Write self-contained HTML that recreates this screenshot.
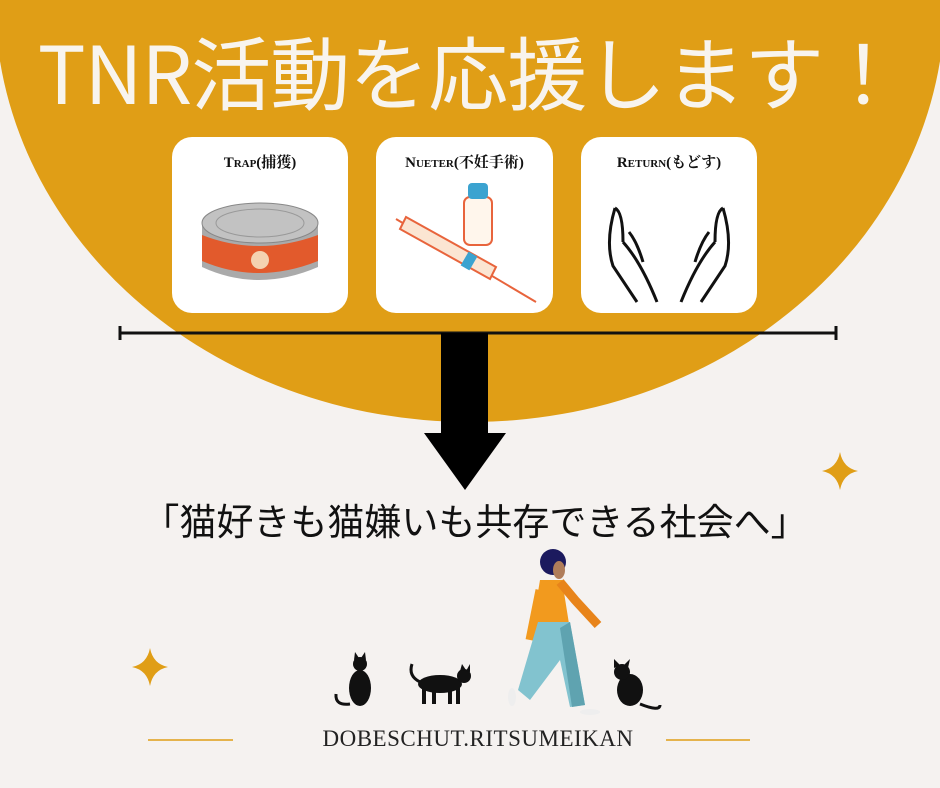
<!DOCTYPE html>
<html><head><meta charset="utf-8"><style>
html,body{margin:0;padding:0}
body{width:940px;height:788px;background:#f5f2f0;position:relative;overflow:hidden;font-family:"Liberation Sans","Noto Sans CJK JP",sans-serif}
.abs{position:absolute}
.card{position:absolute;top:137px;width:176px;height:176px;background:#fff;border-radius:20px}
.card .t{position:absolute;top:14px;left:0;right:0;text-align:center;font-family:"Liberation Serif","Noto Serif CJK SC",serif;font-weight:bold;font-size:15px;color:#111;font-variant:small-caps}
</style></head><body>
<svg class="abs" style="left:0;top:0" width="940" height="788">
<ellipse cx="470" cy="0" rx="475" ry="422" fill="#e09e16"/>
<line x1="120" y1="333" x2="836" y2="333" stroke="#111" stroke-width="3"/>
<line x1="120" y1="326" x2="120" y2="340" stroke="#111" stroke-width="3"/>
<line x1="836" y1="326" x2="836" y2="340" stroke="#111" stroke-width="3"/>
<rect x="441" y="333" width="47" height="100" fill="#000"/>
<polygon points="424,433 506,433 465,490" fill="#000"/>
<path d="M840 452 Q843 468 858 471 Q843 474 840 490 Q837 474 822 471 Q837 468 840 452Z" fill="#e09e16"/>
<path d="M150 648 Q153 664 168 667 Q153 670 150 686 Q147 670 132 667 Q147 664 150 648Z" fill="#e09e16"/>
<line x1="148" y1="740" x2="233" y2="740" stroke="#e09e16" stroke-width="1.5"/>
<line x1="666" y1="740" x2="750" y2="740" stroke="#e09e16" stroke-width="1.5"/>
<g fill="#111">
<ellipse cx="360" cy="688" rx="11" ry="18"/><circle cx="360" cy="664" r="7"/>
<polygon points="354,660 355,652 359,658"/><polygon points="366,660 365,652 361,658"/>
<path d="M350 704 Q335 706 336 694" stroke="#111" stroke-width="3" fill="none"/>
<ellipse cx="440" cy="684" rx="22" ry="9"/><circle cx="464" cy="676" r="7"/>
<polygon points="460,671 462,664 466,670"/><polygon points="466,671 470,664 470,672"/>
<rect x="422" y="686" width="4" height="18"/><rect x="432" y="686" width="4" height="18"/><rect x="448" y="686" width="4" height="18"/><rect x="456" y="686" width="4" height="18"/>
<path d="M420 682 Q408 676 412 664" stroke="#111" stroke-width="3" fill="none"/>
<ellipse cx="630" cy="690" rx="13" ry="16"/><circle cx="622" cy="672" r="8"/>
<polygon points="614,668 614,659 620,665"/><polygon points="628,668 630,659 624,665"/>
<path d="M640 704 Q660 712 660 705" stroke="#111" stroke-width="3" fill="none"/>
</g>
<circle cx="553" cy="562" r="13" fill="#1c1a5e"/>
<ellipse cx="559" cy="570" rx="6" ry="9" fill="#b07d5a"/>
<path d="M540 580 L562 580 L570 630 L530 640 Z" fill="#f29a1e"/>
<path d="M560 582 L575 600 L598 625" stroke="#e8841a" stroke-width="9" fill="none"/>
<path d="M540 590 L530 640" stroke="#f29a1e" stroke-width="9" fill="none"/>
<path d="M538 622 L570 622 L585 705 L570 707 L560 660 L530 700 L518 690 Z" fill="#82c3cf"/>
<path d="M560 628 L570 622 L585 705 L572 707 Z" fill="#5fa3b0"/>
<ellipse cx="590" cy="712" rx="10" ry="3" fill="#eee"/>
<ellipse cx="512" cy="697" rx="4" ry="9" fill="#eee"/>
</svg>
<div class="abs" style="left:0px;top:20px;width:940px;text-align:center;color:#f8f4ee;font-size:80px;line-height:100px;font-family:'Noto Sans CJK JP',sans-serif;font-weight:400;white-space:nowrap;letter-spacing:-1px">TNR活動を応援します！</div>
<div class="card" style="left:172px"><div class="t">Trap(捕獲)</div>
<svg class="abs" style="left:26px;top:58px" width="124" height="100">
<path d="M4 30 L4 72 Q60 98 120 72 L120 30 Z" fill="#aaa"/>
<path d="M4 40 L4 66 Q60 90 120 66 L120 40 Q60 62 4 40Z" fill="#e25a2c"/>
<ellipse cx="62" cy="28" rx="58" ry="20" fill="#c2c2c2" stroke="#888"/>
<ellipse cx="62" cy="28" rx="44" ry="14" fill="none" stroke="#999"/>
<circle cx="62" cy="65" r="9" fill="#f4d2b0"/></svg></div>
<div class="card" style="left:376px;width:177px"><div class="t">Nueter(不妊手術)</div>
<svg class="abs" style="left:10px;top:40px" width="160" height="130">
<rect x="78" y="20" width="28" height="48" rx="6" fill="#fff6ec" stroke="#e8643c" stroke-width="2"/>
<rect x="82" y="6" width="20" height="16" rx="4" fill="#3ba3d0"/>
<line x1="10" y1="42" x2="150" y2="125" stroke="#e8643c" stroke-width="2"/>
<path d="M20 40 L110 90 L104 102 L14 52Z" fill="#fbe5d2" stroke="#e8643c" stroke-width="2"/>
<rect x="78" y="76" width="10" height="16" fill="#3ba3d0" transform="rotate(30 83 84)"/></svg></div>
<div class="card" style="left:581px"><div class="t">Return(もどす)</div>
<svg class="abs" style="left:20px;top:65px" width="136" height="104" fill="none" stroke="#111" stroke-width="3">
<path d="M14 6 Q4 40 12 64 L36 100 M14 6 Q22 10 22 40 M22 40 Q40 60 56 100 M28 30 Q36 40 42 60"/>
<path d="M122 6 Q132 40 124 64 L100 100 M122 6 Q114 10 114 40 M114 40 Q96 60 80 100 M108 30 Q100 40 94 60"/></svg></div>
<div class="abs" style="left:130px;top:494px;width:690px;text-align:center;font-size:37px;line-height:50px;color:#111;white-space:nowrap;font-family:'Noto Sans CJK JP',sans-serif">「猫好きも猫嫌いも共存できる社会へ」</div>
<div class="abs" style="left:300px;top:726px;width:356px;text-align:center;font-family:'Liberation Serif',serif;font-size:23px;color:#222;letter-spacing:0.5px">DOBESCHUT.RITSUMEIKAN</div>
</body></html>
